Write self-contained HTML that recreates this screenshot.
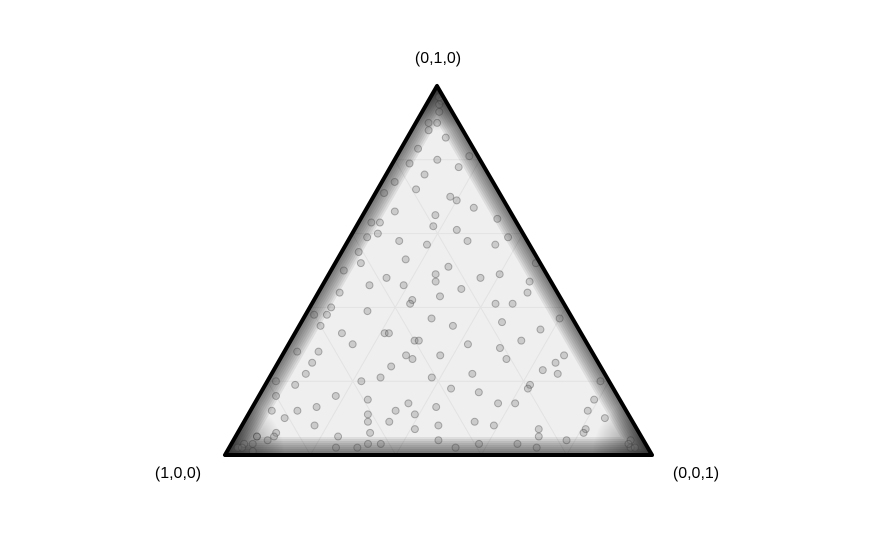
<!DOCTYPE html>
<html>
<head>
<meta charset="utf-8">
<style>
  html, body { margin: 0; padding: 0; background: #fff; }
  svg { display: block; }
  text { font-family: "Liberation Sans", sans-serif; font-size: 16px; fill: #000; }
</style>
</head>
<body>
<svg id="chart" width="876" height="540" viewBox="0 0 876 540" xmlns="http://www.w3.org/2000/svg">
  <defs>
    <clipPath id="triClip"><polygon points="437,86 225,455 652,455"/></clipPath>
    <radialGradient id="cornerGrad">
      <stop offset="0" stop-color="#000" stop-opacity="0.6"/>
      <stop offset="1" stop-color="#000" stop-opacity="0"/>
    </radialGradient>
  </defs>
  <polygon points="437,86 225,455 652,455" fill="#efefef"/>
  <g id="grid"></g>
  <g id="edges" clip-path="url(#triClip)"></g>
  <g id="points" clip-path="url(#triClip)"></g>
  <polygon points="437,86 225,455 652,455" fill="none" stroke="#000" stroke-width="4" stroke-linejoin="round"/>
  <text x="438" y="63" text-anchor="middle">(0,1,0)</text>
  <text x="178" y="478" text-anchor="middle">(1,0,0)</text>
  <text x="696" y="478" text-anchor="middle">(0,0,1)</text>
</svg>
<script>
const vertexLabels = ["(1,0,0)", "(0,1,0)", "(0,0,1)"];
const gridLevels = [0.2, 0.4, 0.6, 0.8];
// samples: [a (left), b (top)], c = 1-a-b
const samplesA = [0.05,0.12,0.31,0.44,0.08,0.62,0.27,0.15,0.02,0.71,0.38,0.19,0.55,0.09,0.33,0.47,0.22,0.04,0.81,0.13,0.29,0.58,0.36,0.07,0.66,0.18,0.41,0.25,0.11,0.52,0.03,0.74,0.34,0.21,0.46,0.16,0.61,0.06,0.39,0.28,0.85,0.14,0.49,0.23,0.68,0.01,0.32,0.57,0.1,0.43,0.2,0.77,0.37,0.05,0.53,0.26,0.64,0.12,0.3,0.45,0.17,0.88,0.08,0.4,0.59,0.24,0.03,0.7,0.35,0.15,0.5,0.28,0.92,0.06,0.42,0.19,0.63,0.11,0.33,0.56,0.02,0.75,0.27,0.14,0.48,0.38,0.09,0.67,0.22,0.44,0.13,0.8,0.31,0.04,0.54,0.26,0.72,0.18,0.36,0.6,0.07,0.46,0.21,0.9,0.34,0.1,0.51,0.29,0.65,0.16,0.41,0.03,0.78,0.24,0.57,0.12,0.39,0.69,0.05,0.47,0.3,0.83,0.2,0.55,0.08,0.35,0.62,0.15,0.43,0.01,0.73,0.27,0.5,0.11,0.37,0.86,0.23,0.45,0.06,0.6,0.32,0.17,0.94,0.04,0.96,0.02,0.03,0.01,0.9,0.07,0.95,0.04,0.93,0.05];
const samplesB = [0.9,0.41,0.22,0.13,0.57,0.09,0.66,0.31,0.2,0.05,0.48,0.72,0.3,0.12,0.08,0.39,0.51,0.64,0.1,0.83,0.35,0.2,0.27,0.44,0.16,0.04,0.55,0.14,0.69,0.07,0.37,0.19,0.6,0.26,0.33,0.48,0.11,0.78,0.03,0.43,0.06,0.58,0.24,0.74,0.02,0.52,0.17,0.38,0.25,0.46,0.62,0.12,0.09,0.86,0.21,0.49,0.28,0.07,0.58,0.02,0.36,0.04,0.67,0.31,0.15,0.05,0.93,0.22,0.42,0.76,0.11,0.3,0.03,0.1,0.52,0.19,0.06,0.49,0.37,0.33,0.81,0.08,0.71,0.23,0.04,0.18,0.34,0.25,0.45,0.27,0.06,0.16,0.53,0.59,0.12,0.02,0.13,0.65,0.41,0.35,0.27,0.08,0.29,0.05,0.63,0.8,0.44,0.14,0.03,0.41,0.21,0.04,0.2,0.57,0.09,0.7,0.31,0.28,0.47,0.5,0.03,0.12,0.18,0.4,0.88,0.46,0.03,0.61,0.26,0.96,0.02,0.47,0.14,0.22,0.59,0.05,0.07,0.33,0.15,0.38,0.63,0.79,0.03,0.02,0.02,0.95,0.02,0.97,0.05,0.9,0.02,0.03,0.01];

const NS = "http://www.w3.org/2000/svg";
const P = {l:[225,455], t:[437,86], r:[652,455]};
function xPos(a,b){ const c=1-a-b; return a*P.l[0]+b*P.t[0]+c*P.r[0]; }
function yPos(a,b){ const c=1-a-b; return a*P.l[1]+b*P.t[1]+c*P.r[1]; }

const grid = document.getElementById('grid');
gridLevels.forEach(g => {
  const segs = [[[0,g],[1-g,g]],[[g,0],[g,1-g]],[[0,1-g],[1-g,0]]];
  segs.forEach(s => {
    const ln = document.createElementNS(NS,'line');
    
    
    ln.setAttribute('x1', xPos(s[0][0],s[0][1])); ln.setAttribute('y1', yPos(s[0][0],s[0][1]));
    ln.setAttribute('x2', xPos(s[1][0],s[1][1])); ln.setAttribute('y2', yPos(s[1][0],s[1][1]));
    ln.setAttribute('stroke', '#e2e2e2'); ln.setAttribute('stroke-width', '1');
    grid.appendChild(ln);
  });
});

const edges = document.getElementById('edges');
for (let w = 36; w >= 4; w -= 4) {
  const pg = document.createElementNS(NS,'polygon');
  
  
  pg.setAttribute('points', '437,86 225,455 652,455');
  pg.setAttribute('fill', 'none'); pg.setAttribute('stroke', '#000');
  pg.setAttribute('stroke-opacity', 0.075); pg.setAttribute('stroke-width', w);
  edges.appendChild(pg);
}
[[437,86,45],[225,455,60],[652,455,60]].forEach(v => {
  const cc = document.createElementNS(NS,'circle');
  
  
  cc.setAttribute('cx', v[0]); cc.setAttribute('cy', v[1]); cc.setAttribute('r', v[2]);
  cc.setAttribute('fill', 'url(#cornerGrad)');
  edges.appendChild(cc);
});

const pts = document.getElementById('points');
for (let i = 0; i < samplesA.length; i++) {
  const a = samplesA[i], b = samplesB[i];
  const c = document.createElementNS(NS,'circle');
  
  
  c.setAttribute('cx', xPos(a,b)); c.setAttribute('cy', yPos(a,b)); c.setAttribute('r', 3.5);
  c.setAttribute('fill', '#777'); c.setAttribute('fill-opacity', '0.3');
  c.setAttribute('stroke', '#333'); c.setAttribute('stroke-opacity', '0.35');
  pts.appendChild(c);
}
</script>
</body>
</html>
